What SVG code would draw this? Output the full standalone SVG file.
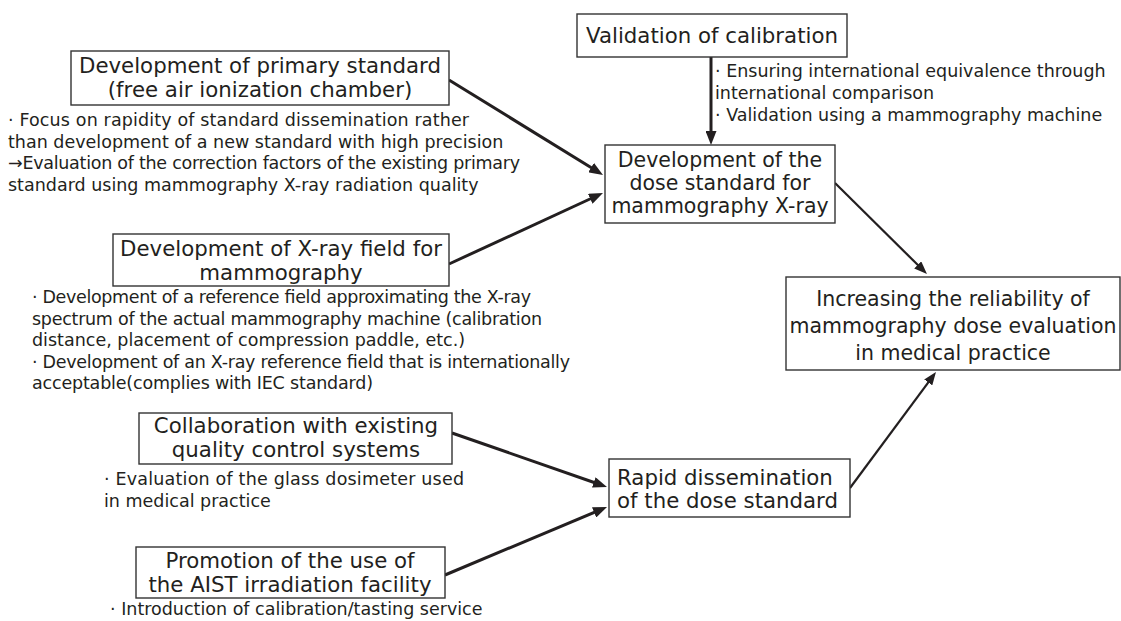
<svg xmlns="http://www.w3.org/2000/svg" width="1121" height="621" viewBox="0 0 1121 621">
<defs>
<style>
.box{fill:#fff;stroke:#333;stroke-width:1.4}
.bt{font-family:"DejaVu Sans","Liberation Sans",sans-serif;font-size:21.3px;fill:#231f20;text-anchor:middle}
.bs{font-size:20.5px}
.nt{font-family:"DejaVu Sans","Liberation Sans",sans-serif;font-size:17.5px;fill:#231f20}
.arr{fill:none;stroke:#231f20;stroke-width:3;marker-end:url(#ah)}
.arrt{fill:none;stroke:#231f20;stroke-width:2.2;marker-end:url(#aht)}
</style>
<marker id="ah" markerUnits="userSpaceOnUse" markerWidth="14" markerHeight="11" refX="8" refY="5.5" orient="auto"><path d="M0,0 L14,5.5 L0,11 z" fill="#231f20"/></marker>
<marker id="aht" markerUnits="userSpaceOnUse" markerWidth="13" markerHeight="10" refX="7" refY="5" orient="auto"><path d="M0,0 L13,5 L0,10 z" fill="#231f20"/></marker>
</defs>
<rect width="1121" height="621" fill="#fff"/>
<g id="connectors">
<line class="arr" x1="449" y1="80" x2="597.9" y2="171.8"/>
<line class="arr" x1="449" y1="264" x2="597.5" y2="195.5"/>
<line class="arr" x1="711" y1="57" x2="711" y2="139"/>
<line class="arrt" x1="835" y1="183" x2="922.7" y2="269.8"/>
<line class="arrt" x1="850" y1="488" x2="932.4" y2="376.8"/>
<line class="arr" x1="452" y1="433" x2="601.3" y2="485"/>
<line class="arr" x1="445" y1="575" x2="601.5" y2="509.3"/>
</g>
<g id="validation">
<rect class="box" x="577" y="14" width="270" height="43"/>
<text class="bt" x="712" y="43">Validation of calibration</text>
<text class="nt" x="715" y="77">· Ensuring international equivalence through</text>
<text class="nt" x="715" y="99">international comparison</text>
<text class="nt" x="715" y="121">· Validation using a mammography machine</text>
</g>
<g id="primary">
<rect class="box" x="71" y="51" width="378" height="54"/>
<text class="bt" x="260" y="73">Development of primary standard</text>
<text class="bt" x="260" y="97">(free air ionization chamber)</text>
<text class="nt" x="8" y="126" textLength="461">· Focus on rapidity of standard dissemination rather</text>
<text class="nt" x="8" y="147.5">than development of a new standard with high precision</text>
<text class="nt" x="8" y="169" textLength="512">→Evaluation of the correction factors of the existing primary</text>
<text class="nt" x="8" y="190.5">standard using mammography X-ray radiation quality</text>
</g>
<g id="dose">
<rect class="box" x="605" y="145" width="230" height="78"/>
<text class="bt bs" x="720" y="167">Development of the</text>
<text class="bt bs" x="720" y="190">dose standard for</text>
<text class="bt bs" x="720" y="213">mammography X-ray</text>
</g>
<g id="xray">
<rect class="box" x="113" y="234" width="336" height="52"/>
<text class="bt" x="281" y="256">Development of X-ray field for</text>
<text class="bt" x="281" y="280">mammography</text>
<text class="nt" x="32" y="303" textLength="499">· Development of a reference field approximating the X-ray</text>
<text class="nt" x="32" y="324.5" textLength="510">spectrum of the actual mammography machine (calibration</text>
<text class="nt" x="32" y="346">distance, placement of compression paddle, etc.)</text>
<text class="nt" x="32" y="367.5" textLength="538">· Development of an X-ray reference field that is internationally</text>
<text class="nt" x="32" y="389" textLength="341">acceptable(complies with IEC standard)</text>
</g>
<g id="increasing">
<rect class="box" x="786" y="277" width="334" height="93"/>
<text class="bt bs" x="953" y="306">Increasing the reliability of</text>
<text class="bt bs" x="953" y="333">mammography dose evaluation</text>
<text class="bt bs" x="953" y="360">in medical practice</text>
</g>
<g id="collaboration">
<rect class="box" x="139" y="413" width="313" height="51"/>
<text class="bt" x="296" y="433">Collaboration with existing</text>
<text class="bt" x="296" y="456.5">quality control systems</text>
<text class="nt" x="104" y="485" textLength="360">· Evaluation of the glass dosimeter used</text>
<text class="nt" x="104" y="507">in medical practice</text>
</g>
<g id="rapid">
<rect class="box" x="609" y="459" width="241" height="58"/>
<text class="bt" x="617" y="485" style="text-anchor:start">Rapid dissemination</text>
<text class="bt" x="617" y="508" style="text-anchor:start">of the dose standard</text>
</g>
<g id="promotion">
<rect class="box" x="136" y="547" width="309" height="51"/>
<text class="bt" x="290" y="568">Promotion of the use of</text>
<text class="bt" x="290" y="592">the AIST irradiation facility</text>
<text class="nt" x="110" y="615">· Introduction of calibration/tasting service</text>
</g>
</svg>
